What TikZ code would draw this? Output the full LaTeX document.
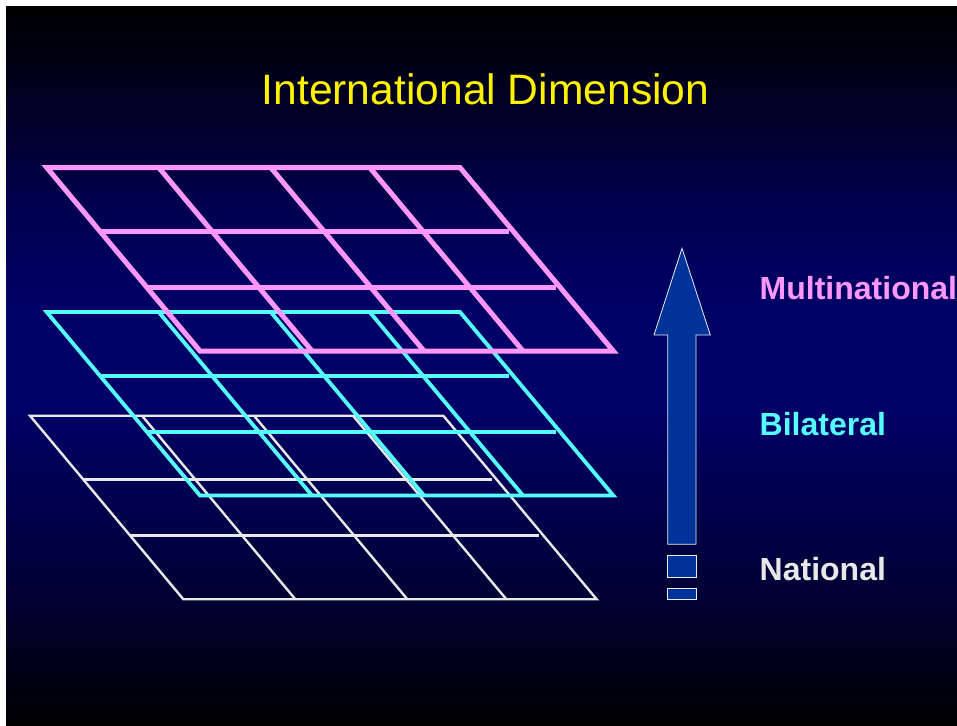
\documentclass[tikz,border=0pt]{standalone}
\usepackage{fontspec}
\setmainfont{Liberation Sans}
\definecolor{pinkc}{RGB}{255,150,250}
\definecolor{cyanc}{RGB}{85,255,255}
\definecolor{whitec}{RGB}{232,232,232}
\definecolor{arrowfill}{RGB}{0,51,153}
\definecolor{bgA}{RGB}{0,0,0}
\definecolor{bgB}{RGB}{0,0,42}
\definecolor{bgC}{RGB}{0,0,84}
\definecolor{bgD}{RGB}{0,0,102}
\definecolor{bgE}{RGB}{0,0,50}
\newcommand\gridlayer[4]{%
  \begin{scope}[shift={(#1,#2)}, draw=#3, line width=#4, line join=miter]
    \draw (0,0) -- (413.3,0) -- (566.6,183.5) -- (153.3,183.5) -- cycle;
    \foreach \u in {112,224,323} \draw (\u,0) -- (\u+153.3,183.5);
    \foreach \r in {63.7,119.8} \draw (\r*0.8354,\r) -- (\r*0.8354+409,\r);
  \end{scope}}
\tikzset{
  lbl/.style={anchor=base west, inner sep=0pt, font=\bfseries\fontsize{32}{38}\selectfont},
  boxpart/.style={draw=white!85!gray, line width=0.8pt, fill=arrowfill}
}
\begin{document}
\begin{tikzpicture}[x=1pt, y=-1pt]
  \useasboundingbox (0,0) rectangle (957,725);
  \fill[white] (0,0) rectangle (957,725);
  % background gradient in bands
  \shade[top color=bgA, bottom color=bgB] (6,7) rectangle (957,120.5);
  \shade[top color=bgB, bottom color=bgC] (6,120) rectangle (957,220.5);
  \shade[top color=bgC, bottom color=bgD] (6,220) rectangle (957,310.5);
  \fill[bgD] (6,310) rectangle (957,410.5);
  \shade[top color=bgD, bottom color=bgE] (6,410) rectangle (957,600.5);
  \shade[top color=bgE, bottom color=bgA] (6,600) rectangle (957,725);

  % layers
  \gridlayer{30}{415.7}{whitec}{2.4pt}
  \gridlayer{46.7}{312}{cyanc}{3.8pt}
  \gridlayer{46.7}{167.5}{pinkc}{5pt}

  % title
  \node[text=yellow, font=\fontsize{42.6}{50}\selectfont, anchor=base, inner sep=0pt] (title) at (485.5,104) {International Dimension};

  % arrow
  \draw[boxpart] (682,248.3) -- (710.3,335) -- (696,335) -- (696,544.3) -- (667.7,544.3) -- (667.7,335) -- (654,335) -- cycle;
  \draw[boxpart] (667.7,555) rectangle (696,577.3);
  \draw[boxpart] (667.7,588.3) rectangle (696,599.3);

  % labels
  \node[lbl, text=pinkc] (multi) at (759.5,299) {Multinational};
  \node[lbl, text=cyanc] (bilat) at (759.5,435) {Bilateral};
  \node[lbl, text=whitec] (natl) at (759.5,580) {National};
\end{tikzpicture}
\end{document}
